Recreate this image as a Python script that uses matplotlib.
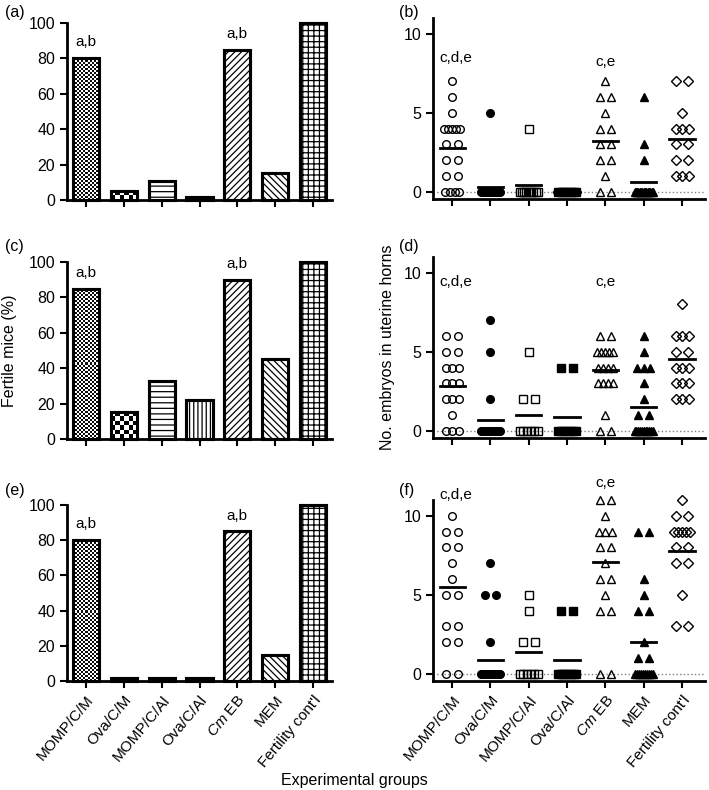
import numpy as np
import matplotlib
matplotlib.use('Agg')
import matplotlib.pyplot as plt
from collections import Counter

plt.rcParams['font.family'] = 'Liberation Sans'
plt.rcParams['mathtext.fontset'] = 'custom'
plt.rcParams['mathtext.rm'] = 'Liberation Sans'
plt.rcParams['mathtext.it'] = 'Liberation Sans:italic'
plt.rcParams['hatch.linewidth'] = 0.9

groups = ['MOMP/C/M', 'Ova/C/M', 'MOMP/C/Al', 'Ova/C/Al', '$\\mathit{Cm}$ EB', 'MEM', "Fertility cont'l"]

# % fertile mice
pct_a = [80, 5, 11, 1.5, 85, 15, 100]
pct_c = [85, 15, 33, 22, 90, 45, 100]
pct_e = [80, 1.5, 1.5, 1.5, 85, 15, 100]

# embryos per mouse
emb_b = [[7, 6, 5, 4, 4, 4, 4, 4, 3, 3, 2, 2, 1, 1, 0, 0, 0, 0],
         [5] + [0] * 15,
         [4] + [0] * 9,
         [0] * 8,
         [7, 6, 6, 5, 4, 4, 3, 3, 2, 2, 1, 0, 0],
         [6, 3, 2] + [0] * 15,
         [7, 7, 5, 4, 4, 4, 3, 3, 2, 2, 1, 1, 1]]
mean_b = [2.75, 0.3, 0.45, 0.0, 3.25, 0.6, 3.35]

emb_d = [[6, 6, 5, 5, 4, 4, 4, 3, 3, 3, 2, 2, 2, 1, 0, 0, 0],
         [7, 5, 2] + [0] * 17,
         [5, 2, 2] + [0] * 6,
         [4, 4] + [0] * 7,
         [6, 6, 5, 5, 5, 5, 5, 4, 4, 4, 4, 3, 3, 3, 3, 1, 0, 0],
         [6, 5, 4, 4, 4, 3, 2, 1, 1] + [0] * 11,
         [8, 6, 6, 6, 5, 5, 4, 4, 4, 3, 3, 3, 2, 2, 2]]
mean_d = [2.85, 0.7, 1.0, 0.9, 3.85, 1.5, 4.55]

emb_f = [[10, 9, 9, 8, 8, 7, 6, 5, 5, 3, 3, 2, 2, 0, 0],
         [7, 5, 5, 2] + [0] * 17,
         [5, 4, 2, 2] + [0] * 6,
         [4, 4] + [0] * 8,
         [11, 11, 10, 9, 9, 9, 8, 8, 7, 6, 6, 5, 4, 4, 0, 0],
         [9, 9, 6, 5, 4, 4, 2, 1, 1] + [0] * 10,
         [11, 10, 10, 9, 9, 9, 9, 9, 8, 8, 7, 7, 5, 3, 3]]
mean_f = [5.5, 0.9, 1.4, 0.85, 7.1, 2.0, 7.8]

x = np.arange(len(groups))

fig = plt.figure(figsize=(7.09, 7.90), dpi=100)

def pos(l, b, r, t):
    return [l / 709, 1 - b / 790, (r - l) / 709, (b - t) / 790]

def checker(ax, rect, cell, dark):
    x0, y0 = rect.get_x(), rect.get_y()
    w, h = rect.get_width(), rect.get_height()
    p0 = ax.transData.transform((x0, y0))
    p1 = ax.transData.transform((x0 + w, y0 + h))
    nx = max(1, int(round((p1[0] - p0[0]) / cell)))
    ny = max(1, int(round((p1[1] - p0[1]) / cell)))
    grid = np.indices((ny, nx)).sum(axis=0) % 2
    im = ax.imshow(grid, cmap='Greys', vmin=0, vmax=1 / dark, extent=(x0, x0 + w, y0, y0 + h),
                   aspect='auto', interpolation='nearest', zorder=2.5)
    im.set_clip_path(rect)

hatches = [None, None, '---', '||||', '/////', '\\\\\\\\\\', '+++']

def bar_panel(ax, vals, ylabel=None):
    ax.set_xlim(-0.5, 6.5)
    ax.set_ylim(0, 100)
    bars = ax.bar(x, vals, 0.69, color='white', edgecolor='k', linewidth=2.2, zorder=2, clip_on=False)
    for i, b in enumerate(bars):
        if hatches[i] is not None:
            b.set_hatch(hatches[i])
    checker(ax, bars[0], 2.0, 0.95)
    checker(ax, bars[1], 4.4, 1.0)
    ax.bar(x, vals, 0.69, color='none', edgecolor='k', linewidth=2.2, zorder=3, clip_on=False)
    ax.set_xlim(-0.5, 6.5)
    ax.set_ylim(0, 100)
    for i in [0, 4]:
        ax.text(x[i], vals[i] + 9, 'a,b', ha='center', va='center', fontsize=11)
    ax.set_yticks([0, 20, 40, 60, 80, 100])
    ax.set_xticks(x)
    ax.set_xticklabels([])
    ax.spines['top'].set_visible(False)
    ax.spines['right'].set_visible(False)
    ax.spines['left'].set_linewidth(2)
    ax.spines['bottom'].set_linewidth(2)
    ax.tick_params(width=1.5, length=5, labelsize=11.5)
    if ylabel:
        ax.set_ylabel(ylabel, fontsize=11.5, labelpad=8)

markers = ['o', 'o', 's', 's', '^', '^', 'D']
filled = [False, True, False, True, False, True, False]
msizes = [5.5, 5.5, 5.5, 5.5, 6, 6, 5]

def dot_panel(ax, data, means, ylabel=None):
    ax.set_xlim(-0.5, 6.6)
    ax.set_ylim(-0.45, 11)
    ax.axhline(0, color='gray', ls=':', lw=1, zorder=0)
    for i, vals in enumerate(data):
        cnt = Counter(vals)
        xs, ys = [], []
        for v, k in cnt.items():
            if k == 1:
                offs = [0.0]
            else:
                half = min(0.15 + 0.02 * (k - 2), 0.24)
                offs = np.linspace(-half, half, k)
            xs += list(i + np.asarray(offs))
            ys += [v] * k
        ax.plot(xs, ys, ls='none', marker=markers[i], ms=msizes[i],
                mfc='k' if filled[i] else 'none', mec='k', mew=1, clip_on=False, zorder=3)
        ax.plot([i - 0.33, i + 0.33], [means[i], means[i]], color='k', lw=2, zorder=4)
    ax.set_yticks([0, 5, 10])
    ax.set_xticks(x)
    ax.set_xticklabels([])
    ax.spines['top'].set_visible(False)
    ax.spines['right'].set_visible(False)
    ax.spines['left'].set_linewidth(2)
    ax.spines['bottom'].set_linewidth(2)
    ax.tick_params(width=1.5, length=5, labelsize=11.5)
    if ylabel:
        ax.set_ylabel(ylabel, fontsize=11.5, labelpad=6)

ax_a = fig.add_axes(pos(67, 200, 332, 23))
ax_c = fig.add_axes(pos(67, 439, 332, 262))
ax_e = fig.add_axes(pos(67, 681, 332, 505))
ax_b = fig.add_axes(pos(433, 199, 705, 18))
ax_d = fig.add_axes(pos(433, 438, 705, 257))
ax_f = fig.add_axes(pos(433, 681, 705, 500))

bar_panel(ax_a, pct_a)
bar_panel(ax_c, pct_c, 'Fertile mice (%)')
bar_panel(ax_e, pct_e)

dot_panel(ax_b, emb_b, mean_b)
dot_panel(ax_d, emb_d, mean_d, 'No. embryos in uterine horns')
dot_panel(ax_f, emb_f, mean_f)

ax_b.text(0.1, 8.5, 'c,d,e', ha='center', va='center', fontsize=11)
ax_b.text(4, 8.2, 'c,e', ha='center', va='center', fontsize=11)
ax_d.text(0.1, 9.4, 'c,d,e', ha='center', va='center', fontsize=11)
ax_d.text(4, 9.4, 'c,e', ha='center', va='center', fontsize=11)
ax_f.text(0.1, 11.3, 'c,d,e', ha='center', va='center', fontsize=11, clip_on=False)
ax_f.text(4, 12.1, 'c,e', ha='center', va='center', fontsize=11, clip_on=False)

for ax in [ax_e, ax_f]:
    ax.set_xticklabels(groups, rotation=50, ha='right', rotation_mode='anchor', fontsize=11)

for lab, px, py in [('(a)', 5, 12), ('(b)', 399, 12), ('(c)', 5, 247), ('(d)', 399, 247),
                    ('(e)', 5, 490), ('(f)', 399, 490)]:
    fig.text(px / 709, 1 - py / 790, lab, ha='left', va='center', fontsize=11.5)

fig.text(354 / 709, 1 - 780 / 790, 'Experimental groups', ha='center', va='center', fontsize=11.5)

fig.savefig('out.png', dpi=100)
